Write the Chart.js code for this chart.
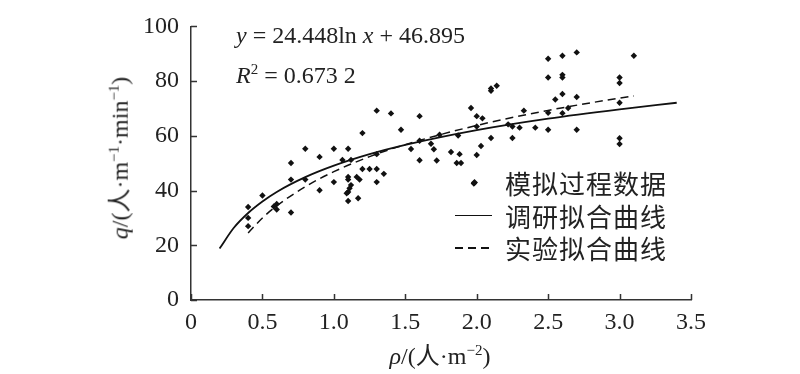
<!DOCTYPE html>
<html>
<head>
<meta charset="utf-8">
<script src="https://cdn.jsdelivr.net/npm/chart.js"></script>
<style>
  body { margin: 0; background: #fff; }
  #wrap { position: relative; width: 800px; height: 374px; }
  #chart { position: absolute; left: 0; top: 0; }
  .t { position: absolute; font-family: "Liberation Serif", "Noto Sans CJK SC", serif; color: #222; white-space: nowrap; font-size: 24px; line-height: 1.15; }
  .t i { font-style: italic; }
  .t .sup { font-size: 15px; vertical-align: 9px; }
  .cn { font-family: "Noto Sans CJK SC", sans-serif; font-size: 26px; line-height: 26px; letter-spacing: 1px; color: #222; position: absolute; }
  .mk { position: absolute; }
  .dash { height: 1.6px; background: repeating-linear-gradient(to right, #111 0 8px, transparent 8px 13px); }
</style>
</head>
<body>
<div id="wrap">
  <canvas id="chart" width="800" height="374"></canvas>

  <div class="t" style="left:236px; top:22px;"><i>y</i> = 24.448ln <i>x</i> + 46.895</div>
  <div class="t" style="left:236px; top:61px;"><i>R</i><span class="sup">2</span> = 0.673 2</div>

  <div class="t" style="left:120px; top:158px; transform: translate(-50%, -50%) rotate(-90deg);"><i>q</i>/(人·m<span class="sup">−1</span>·min<span class="sup">−1</span>)</div>
  <div class="t" style="left:440px; top:356px; transform: translate(-50%, -50%);"><i>ρ</i>/(人·m<span class="sup">−2</span>)</div>

  <div class="mk" style="left:472px; top:180px; width:5px; height:5px; background:#111; transform: rotate(45deg);"></div>
  <div class="mk" style="left:455px; top:215px; width:37px; border-top:1.8px solid #111;"></div>
  <div class="mk dash" style="left:455px; top:247px; width:37px;"></div>
  <div class="cn" style="left:505px; top:170px;">模拟过程数据</div>
  <div class="cn" style="left:505px; top:203px;">调研拟合曲线</div>
  <div class="cn" style="left:505px; top:235px;">实验拟合曲线</div>
</div>

<script>
// simulated data (density, flow)
const simRho = [0.4, 0.4, 0.4, 0.5, 0.6, 0.58, 0.6, 0.7, 0.7, 0.7,
  0.8, 0.8, 0.9, 0.9, 1.0, 1.0, 1.06, 1.1, 1.12, 1.1,
  1.1, 1.16, 1.18, 1.12, 1.11, 1.10, 1.09, 1.1, 1.17, 1.2,
  1.2, 1.25, 1.3, 1.3, 1.3, 1.3, 1.35, 1.4, 1.47, 1.54,
  1.6, 1.6, 1.6, 1.68, 1.70, 1.72, 1.74, 1.82, 1.88, 1.86,
  1.89, 1.87, 1.96, 1.98, 2.0, 2.04, 2.0, 2.03, 2.0, 2.1,
  2.1, 2.14, 2.1, 2.22, 2.25, 2.25, 2.30, 2.33, 2.41, 2.5,
  2.5, 2.5, 2.5, 2.55, 2.6, 2.6, 2.6, 2.6, 2.6, 2.64,
  2.7, 2.7, 2.7, 3.0, 3.0, 3.0, 3.0, 3.0, 3.1];
const simQ = [34.0, 30.0, 27.0, 38.2, 35.1, 34.2, 33.1, 50.1, 44.0, 32.0,
  55.3, 44.0, 52.3, 40.1, 55.3, 43.1, 51.2, 55.3, 51.2, 45.0,
  44.0, 45.0, 44.0, 42.0, 40.8, 39.5, 39.0, 36.2, 37.2, 61.0,
  47.9, 47.9, 69.2, 53.3, 47.9, 43.1, 46.1, 68.2, 62.2, 55.2,
  67.2, 58.2, 51.1, 57.1, 55.1, 51.0, 60.4, 54.1, 53.3, 50.1,
  50.1, 60.1, 70.2, 42.6, 67.2, 66.4, 63.4, 56.3, 53.0, 76.5,
  77.3, 78.3, 59.2, 64.2, 63.4, 59.2, 63.0, 69.2, 63.0, 88.2,
  81.3, 68.4, 62.2, 73.3, 89.3, 82.3, 81.3, 75.3, 68.3, 70.2,
  90.5, 74.2, 62.2, 81.3, 79.3, 72.1, 59.1, 57.0, 89.3];

// survey fit curve
const surveyRho = [0.2, 0.3, 0.4, 0.5, 0.6, 0.8, 1.0, 1.25, 1.5, 2.0, 2.5, 3.0, 3.4];
const surveyQ = [18.8, 26.4, 31.8, 36.0, 39.5, 44.9, 49.1, 53.3, 56.7, 62.1, 66.3, 69.7, 72.1];

// experiment fit curve (dashed)
const expRho = [0.4, 0.5, 0.6, 0.8, 1.0, 1.25, 1.5, 2.0, 2.5, 3.0, 3.1];
const expQ = [24.5, 30.0, 34.4, 41.4, 46.9, 52.4, 56.8, 63.8, 69.3, 73.8, 74.6];

const xTickLabels = ['0', '0.5', '1.0', '1.5', '2.0', '2.5', '3.0', '3.5'];
const yTickLabels = ['0', '20', '40', '60', '80', '100'];

const toPts = (xs, ys) => xs.map((x, i) => ({ x: x, y: ys[i] }));

// tick marks pointing into the plot
const innerTicks = {
  id: 'innerTicks',
  afterDraw(chart) {
    const ctx = chart.ctx, a = chart.chartArea;
    const xs = chart.scales.x, ys = chart.scales.y;
    ctx.save();
    ctx.strokeStyle = '#333';
    ctx.lineWidth = 1.5;
    ctx.beginPath();
    xs.ticks.forEach(t => {
      const p = Math.round(xs.getPixelForValue(t.value)) + 0.5;
      ctx.moveTo(p, a.bottom);
      ctx.lineTo(p, a.bottom - 6);
    });
    ys.ticks.forEach(t => {
      const p = Math.round(ys.getPixelForValue(t.value)) + 0.5;
      ctx.moveTo(a.left, p);
      ctx.lineTo(a.left + 6, p);
    });
    ctx.stroke();
    ctx.restore();
  }
};

const tickFont = { family: "'Liberation Serif', 'Times New Roman', serif", size: 24 };

new Chart(document.getElementById('chart'), {
  type: 'scatter',
  data: {
    datasets: [
      {
        label: '模拟过程数据',
        data: toPts(simRho, simQ),
        pointStyle: 'rectRot',
        pointRadius: 3.2,
        backgroundColor: '#111',
        borderWidth: 0
      },
      {
        label: '调研拟合曲线',
        data: toPts(surveyRho, surveyQ),
        showLine: true,
        pointRadius: 0,
        borderColor: '#111',
        borderWidth: 1.8,
        cubicInterpolationMode: 'monotone'
      },
      {
        label: '实验拟合曲线',
        data: toPts(expRho, expQ),
        showLine: true,
        pointRadius: 0,
        borderColor: '#111',
        borderWidth: 1.5,
        borderDash: [8, 5],
        cubicInterpolationMode: 'monotone'
      }
    ]
  },
  options: {
    responsive: false,
    animation: false,
    layout: { padding: { top: 19, right: 109, bottom: 0, left: 0 } },
    plugins: { legend: { display: false }, tooltip: { enabled: false } },
    scales: {
      x: {
        min: 0, max: 3.5,
        grid: { display: false, drawTicks: false },
        border: { display: true, color: '#333', width: 1.5 },
        ticks: {
          stepSize: 0.5,
          padding: 8,
          color: '#222',
          font: tickFont,
          maxRotation: 0,
          callback: (v, i) => xTickLabels[i]
        },
        afterFit: s => { s.height = 74; }
      },
      y: {
        min: 0, max: 100,
        grid: { display: false, drawTicks: false },
        border: { display: true, color: '#333', width: 1.5 },
        ticks: {
          stepSize: 20,
          padding: 12,
          color: '#222',
          font: tickFont,
          callback: (v, i) => yTickLabels[i]
        },
        afterFit: s => { s.width = 191; }
      }
    }
  },
  plugins: [innerTicks]
});
</script>
</body>
</html>
